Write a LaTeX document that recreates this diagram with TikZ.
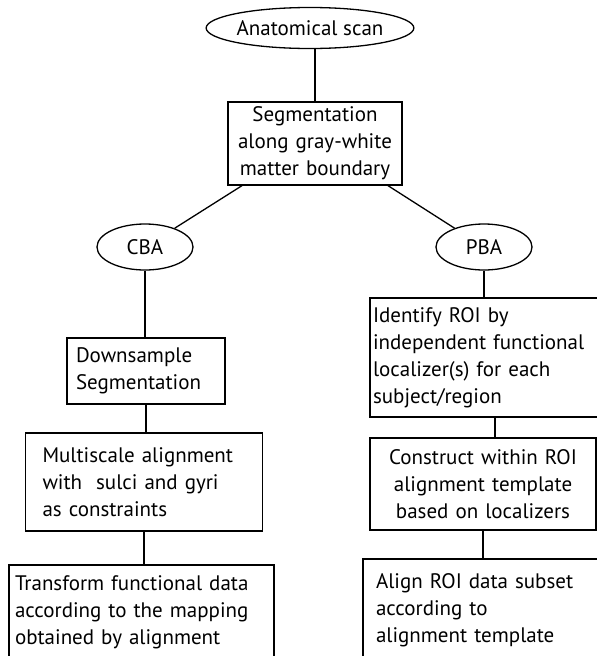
\documentclass[tikz,border=0pt]{standalone}
\usepackage{fontspec}
\setmainfont{PT Sans}
\usetikzlibrary{shapes.geometric}
\begin{document}
\begin{tikzpicture}[x=1pt,y=-1pt,line width=1.3pt,
  font=\fontsize{21}{27}\selectfont,
  oval/.style={draw,ellipse,inner sep=0pt,minimum width=#1,minimum height=46},
  stepbox/.style={draw,rectangle,inner ysep=0pt,align=left}]%two pipelines
\clip (0,0) rectangle (597,656);
\useasboundingbox (0,0) rectangle (597,656);
\node[oval=174,minimum height=41] (scan) at (310,28) {Anatomical scan};
\node[stepbox,align=center,text width=166,inner xsep=4,minimum height=83] (seg) at (315,143.5)
  {Segmentation\\along gray-white\\matter boundary};
\node[oval=96] (cba) at (145,247) {CBA};
\node[oval=96] (pba) at (484,247) {PBA};
% left column
\node[stepbox,text width=140,inner xsep=9,minimum height=66] (down) at (146,371)
  {Downsample\\Segmentation};
\node[stepbox,text width=203,inner xsep=17,minimum height=98] (multi) at (144,482)
  {Multiscale alignment\\with\ \ sulci and gyri\\as constraints};
\node[stepbox,text width=253,inner xsep=6,minimum height=94] (trans) at (141.5,612)
  {Transform functional data\\according to the mapping\\obtained by alignment};
% right column
\node[stepbox,text width=244,inner xsep=3,minimum height=119] (ident) at (495,357.5)
  {Identify ROI by\\independent functional\\localizer(s) for each\\subject/region};
\node[stepbox,align=center,text width=214,inner xsep=6,minimum height=92] (cons) at (483,484)
  {Construct within ROI\\alignment template\\based on localizers};
\node[stepbox,text width=231,inner xsep=13,minimum height=102] (roidata) at (491.5,610)
  {Align ROI data subset\\according to\\alignment template};
\draw (seg.north) -- (seg.north |- scan.south);
\draw (seg.-150) -- (cba);
\draw (seg.-30) -- (pba);
\foreach \a/\b in {cba/down,down/multi,multi/trans,pba/ident,ident/cons,cons/roidata}
  \draw (\a.south) -- (\a.south |- \b.north);
\end{tikzpicture}
\end{document}
